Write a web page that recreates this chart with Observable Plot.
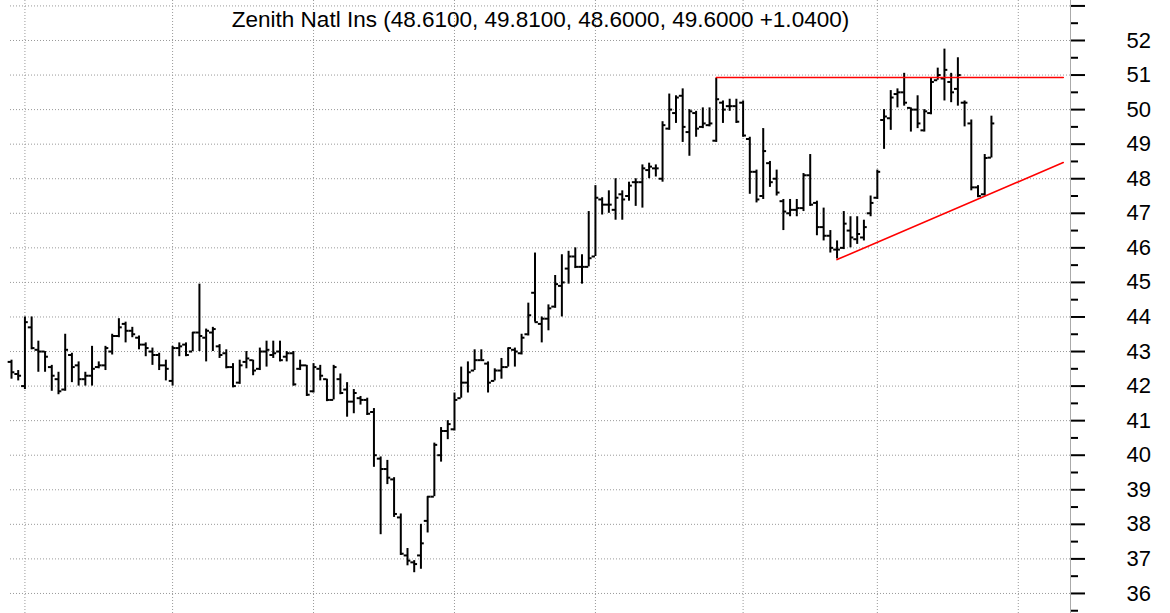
<!DOCTYPE html>
<html>
<head>
<meta charset="utf-8">
<script src="https://cdn.jsdelivr.net/npm/d3@7"></script>
<script src="https://cdn.jsdelivr.net/npm/@observablehq/plot@0.6"></script>
<style>
  html, body { margin: 0; padding: 0; background: #fff; }
  #chart { width: 1170px; height: 613px; }
</style>
</head>
<body>
<div id="chart"></div>
<script>
const title = "Zenith Natl Ins (48.6100, 49.8100, 48.6000, 49.6000 +1.0400)";

const opens = [42.70,42.35,42.00,43.70,43.05,43.00,42.55,42.20,41.90,42.90,42.60,42.20,42.30,42.55,42.60,43.00,43.45,43.80,43.60,43.40,
43.20,43.00,42.90,42.60,42.15,43.10,43.20,43.00,43.55,43.40,43.55,43.15,42.95,42.55,42.10,42.70,42.75,42.50,43.00,42.90,
43.00,42.85,42.95,42.50,42.60,41.85,42.50,42.20,41.60,42.20,41.90,41.55,41.65,41.60,41.25,39.90,39.60,39.30,38.20,37.10,
36.90,37.10,38.10,38.80,40.00,40.70,40.75,41.65,42.10,42.45,42.75,42.65,42.15,42.45,42.55,43.05,42.95,43.50,44.70,43.80,
43.95,44.30,44.90,45.40,45.75,45.45,45.45,45.75,47.40,47.25,47.10,47.55,47.50,47.90,47.90,48.25,48.30,48.00,49.45,49.90,
50.40,49.35,49.90,49.50,49.55,49.10,50.20,50.10,50.10,50.20,49.15,48.20,47.50,48.45,48.00,47.35,47.00,47.10,47.15,48.10,
47.30,46.60,46.35,45.95,46.00,46.50,46.25,46.30,47.00,47.45,49.70,49.75,50.45,50.50,50.05,50.00,49.40,49.90,50.85,50.90,
50.80,50.60,50.20,49.60,47.75,47.55,48.61];
const highs = [42.75,42.45,44.00,44.00,43.30,43.00,42.60,42.40,43.50,42.95,42.70,42.40,43.15,42.70,43.15,43.50,43.95,43.85,43.70,43.45,
43.25,43.10,42.95,42.75,43.15,43.25,43.25,43.55,44.95,43.65,43.70,43.20,43.05,42.65,42.75,43.00,42.75,43.10,43.30,43.30,
43.30,43.00,43.00,42.75,42.60,42.65,42.60,42.20,42.60,42.35,42.10,41.90,41.70,41.65,41.35,39.95,39.85,39.35,38.30,37.30,
36.95,38.00,38.80,40.35,40.80,41.00,41.80,42.55,42.70,43.05,43.05,42.70,42.50,42.80,43.10,43.10,43.50,44.40,45.85,44.00,
44.35,45.20,45.80,45.90,46.00,45.80,47.05,47.80,47.45,47.65,48.00,47.65,47.90,48.00,48.40,48.45,48.40,49.65,50.45,50.40,
50.60,50.00,49.95,50.05,50.05,50.90,50.25,50.30,50.30,50.25,49.20,48.25,49.45,48.50,48.25,47.40,47.40,47.40,48.15,48.70,
47.35,47.15,46.50,46.20,47.05,46.90,46.90,46.80,47.50,48.25,50.00,50.55,50.60,51.05,50.05,50.40,50.00,50.90,51.20,51.75,
51.05,51.50,50.25,49.70,47.80,48.70,49.81];
const lows = [42.20,42.15,41.90,43.05,42.40,42.40,41.85,41.75,41.85,42.10,42.00,42.00,42.00,42.50,42.45,42.90,43.40,43.25,43.40,43.05,
42.85,42.60,42.45,42.15,42.00,42.85,42.85,43.00,43.00,42.70,43.00,42.80,42.50,41.95,42.05,42.50,42.30,42.45,42.55,42.80,
42.70,42.70,42.00,42.45,41.70,41.80,42.15,41.55,41.60,41.75,41.10,41.20,41.45,41.15,39.65,37.70,39.15,38.20,37.10,36.80,
36.60,36.70,37.75,38.80,39.80,40.45,40.70,41.65,41.80,42.45,42.75,41.80,42.15,42.20,42.55,42.55,42.90,43.45,43.85,43.25,
43.60,44.25,44.00,44.95,45.40,44.95,45.45,45.75,46.95,47.00,46.80,46.80,47.35,47.20,47.15,48.00,48.05,47.90,49.40,49.60,
49.05,48.65,49.20,49.45,49.50,49.05,49.60,49.95,49.60,49.20,47.55,47.30,47.40,47.75,47.50,46.50,46.90,46.90,47.05,47.20,
46.35,46.20,45.85,45.68,45.95,46.00,46.10,46.20,46.90,47.40,48.85,49.40,50.05,50.10,49.35,49.45,49.35,49.85,50.85,50.25,
50.20,50.10,49.50,47.65,47.45,47.50,48.60];
const closes = [42.40,42.30,43.85,43.10,43.00,42.85,42.30,41.85,43.05,42.55,42.20,42.30,42.50,42.60,43.10,43.45,43.70,43.60,43.50,43.20,
43.10,42.90,42.60,42.50,43.10,43.15,42.90,43.55,43.45,43.60,43.65,42.90,42.55,42.00,42.60,42.80,42.45,43.00,43.05,42.95,
42.75,42.95,42.05,42.60,41.75,42.55,42.30,41.60,42.55,41.80,41.55,41.80,41.60,41.20,40.00,39.60,39.35,38.30,37.15,36.95,
36.85,37.45,38.80,40.30,40.70,40.90,41.60,42.10,42.40,42.75,42.75,42.10,42.45,42.55,43.10,43.00,43.40,44.05,43.85,43.95,
44.25,44.95,45.00,45.75,45.45,45.45,45.70,47.45,47.25,47.25,47.45,47.40,47.80,47.90,48.30,48.35,48.30,49.55,50.00,50.35,
49.50,49.95,49.45,49.60,49.60,50.30,50.00,50.10,49.65,49.25,48.20,47.40,48.80,47.90,47.60,47.05,47.10,47.15,48.10,47.25,
46.60,46.35,46.00,45.95,46.70,46.30,46.40,46.60,47.30,48.20,49.80,50.35,50.50,50.20,50.00,49.60,49.95,50.80,51.00,51.15,
50.50,51.00,50.20,47.75,47.50,48.60,49.60];

// month boundary bar indices (vertical dotted grid)
const monthStarts = [2, 24, 45, 66, 87, 109, 129, 150];
// price tick values
const majorTicks = d3.range(36, 53);
const topTick = [53];
const minorTicks = d3.range(35.5, 53, 1);
const gridValues = d3.range(36, 54);

// drawn trend lines (bar index, price)
const resistance = [{i: 105, v: 50.93}, {i: 156.7, v: 50.93}];
const support = [{i: 123, v: 45.66}, {i: 156.7, v: 48.47}];

const xDomain = [-0.149, 157.78];
const yDomain = [35.42, 53.157];

const bars = opens.map((o, i) => ({i, open: o, high: highs[i], low: lows[i], close: closes[i]}));
const tw = 0.5;

const chart = Plot.plot({
  width: 1170,
  height: 613,
  marginLeft: 10,
  marginRight: 100,
  marginTop: 0,
  marginBottom: 0,
  style: {fontFamily: "'Liberation Sans', Arial, sans-serif", fontSize: "22px", background: "#fff", color: "#000"},
  x: {domain: xDomain, axis: null},
  y: {domain: yDomain, axis: null},
  marks: [
    Plot.gridY(gridValues, {stroke: "#999", strokeOpacity: 1, strokeDasharray: "1,2"}),
    Plot.gridX(monthStarts, {stroke: "#999", strokeOpacity: 1, strokeDasharray: "1,2"}),
    Plot.ruleX([xDomain[1]], {stroke: "#aaa", strokeWidth: 1}),
    Plot.axisY(majorTicks, {anchor: "right", tickSize: 14, tickPadding: 42, label: null, fontSize: 22, strokeWidth: 2}),
    Plot.axisY(topTick, {anchor: "right", tickSize: 14, tickFormat: () => "", label: null, strokeWidth: 2}),
    Plot.axisY(minorTicks, {anchor: "right", tickSize: 7, tickFormat: () => "", label: null, strokeWidth: 2}),
    Plot.ruleX(bars, {x: "i", y1: "low", y2: "high", stroke: "#000", strokeWidth: 2}),
    Plot.ruleY(bars, {y: "open", x1: d => d.i - tw, x2: "i", stroke: "#000", strokeWidth: 2}),
    Plot.ruleY(bars, {y: "close", x1: "i", x2: d => d.i + tw, stroke: "#000", strokeWidth: 2}),
    Plot.line(resistance, {x: "i", y: "v", stroke: "#ff0000", strokeWidth: 1.6}),
    Plot.line(support, {x: "i", y: "v", stroke: "#ff0000", strokeWidth: 1.6}),
    Plot.text([title], {frameAnchor: "top", lineAnchor: "middle", dy: 19, fontSize: 22.5, fill: "#000"})
  ]
});
document.getElementById("chart").appendChild(chart);
</script>
</body>
</html>
